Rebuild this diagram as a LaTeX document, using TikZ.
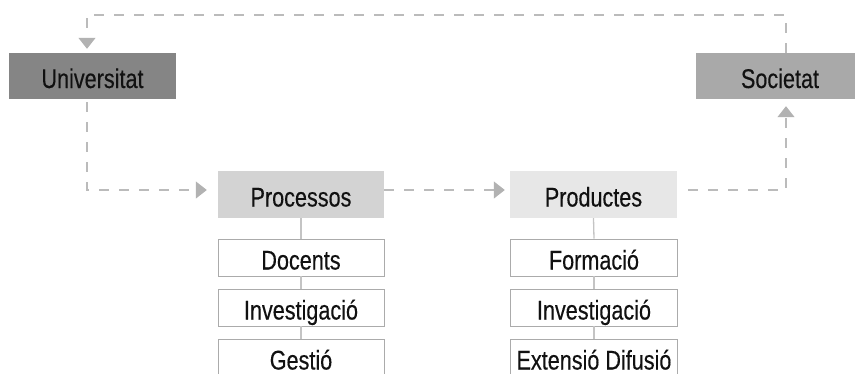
\documentclass[tikz,border=0pt]{standalone}
\usepackage{fontspec}
\setmainfont{Liberation Sans}[FakeStretch=0.8, FakeBold=0.3]
\usetikzlibrary{arrows.meta}

\definecolor{txt}{HTML}{111111}
\definecolor{unifill}{HTML}{858585}
\definecolor{socfill}{HTML}{A9A9A9}
\definecolor{procfill}{HTML}{D3D3D3}
\definecolor{prodfill}{HTML}{E7E7E7}
\definecolor{flowgray}{HTML}{BBBBBB}
\definecolor{tipgray}{HTML}{B2B2B2}
\definecolor{edgegray}{HTML}{ABABAB}
\definecolor{linkgray}{HTML}{C4C4C4}

\tikzset{
  label/.style={font=\fontsize{27}{31}\selectfont, text=txt, inner sep=0pt,
    text height=24pt, text depth=0pt, anchor=center},
  headbox/.style={label, rectangle, minimum width=167pt, minimum height=46pt},
  itembox/.style={label, rectangle, draw=edgegray, line width=0.9pt, fill=white,
    minimum width=166pt, minimum height=37pt},
  flow/.style={draw=flowgray, line width=1.2pt, dash pattern=on 10pt off 10pt},
  flowtip/.style={-{Triangle[length=11pt,width=17pt,fill=tipgray,color=tipgray]}},
  link/.style={draw=linkgray, line width=1.3pt}
}

\begin{document}
\begin{tikzpicture}[x=1pt,y=-1pt]
  \useasboundingbox (0,0) rectangle (855,373);
  \clip (0,0) rectangle (855,373);

  % main blocks
  \node[headbox, fill=unifill] (uni) at (92.5,76) {Universitat};
  \node[headbox, fill=socfill, minimum width=168pt] (soc) at (780,76) {Societat};
  \node[headbox, fill=procfill, minimum width=166pt, minimum height=47pt] (proc) at (301,194.5) {Processos};
  \node[headbox, fill=prodfill, minimum height=47pt] (prod) at (593.5,194.5) {Productes};

  % lists under each block
  \node[itembox] (p1) at (301,257.5) {Docents};
  \node[itembox] (p2) at (301,307.5) {Investigació};
  \node[itembox] (p3) at (301,357.5) {Gestió};
  \node[itembox, minimum width=167pt] (r1) at (594,257.5) {Formació};
  \node[itembox, minimum width=167pt] (r2) at (594,307.5) {Investigació};
  \node[itembox, minimum width=167pt] (r3) at (594,357.5) {Extensió Difusió};

  \draw[link] (proc.south) -- (p1.north);
  \draw[link] (p1.south) -- (p2.north);
  \draw[link] (p2.south) -- (p3.north);
  \draw[link] (prod.south) -- (r1.north);
  \draw[link] (r1.south) -- (r2.north);
  \draw[link] (r2.south) -- (r3.north);

  % corners of the dashed loop
  \coordinate (tl) at (87,15);
  \coordinate (tr) at (786,15);
  \coordinate (bl) at (87,190);
  \coordinate (br) at (786,190);

  % dashed flow
  \draw[flow, flowtip, shorten >=4pt] (soc.north -| tr) -- (tr) -- (tl) -- (uni.north -| tl);
  \draw[flow, flowtip, shorten <=3pt, shorten >=11pt] (uni.south -| bl) -- (bl) -- (proc.west |- bl);
  \draw[flow, flowtip, shorten >=5pt] (proc.east |- bl) -- (prod.west |- bl);
  \draw[flow, flowtip, shorten <=11pt, shorten >=7pt] (prod.east |- br) -- (br) -- (soc.south -| br);
\end{tikzpicture}
\end{document}
